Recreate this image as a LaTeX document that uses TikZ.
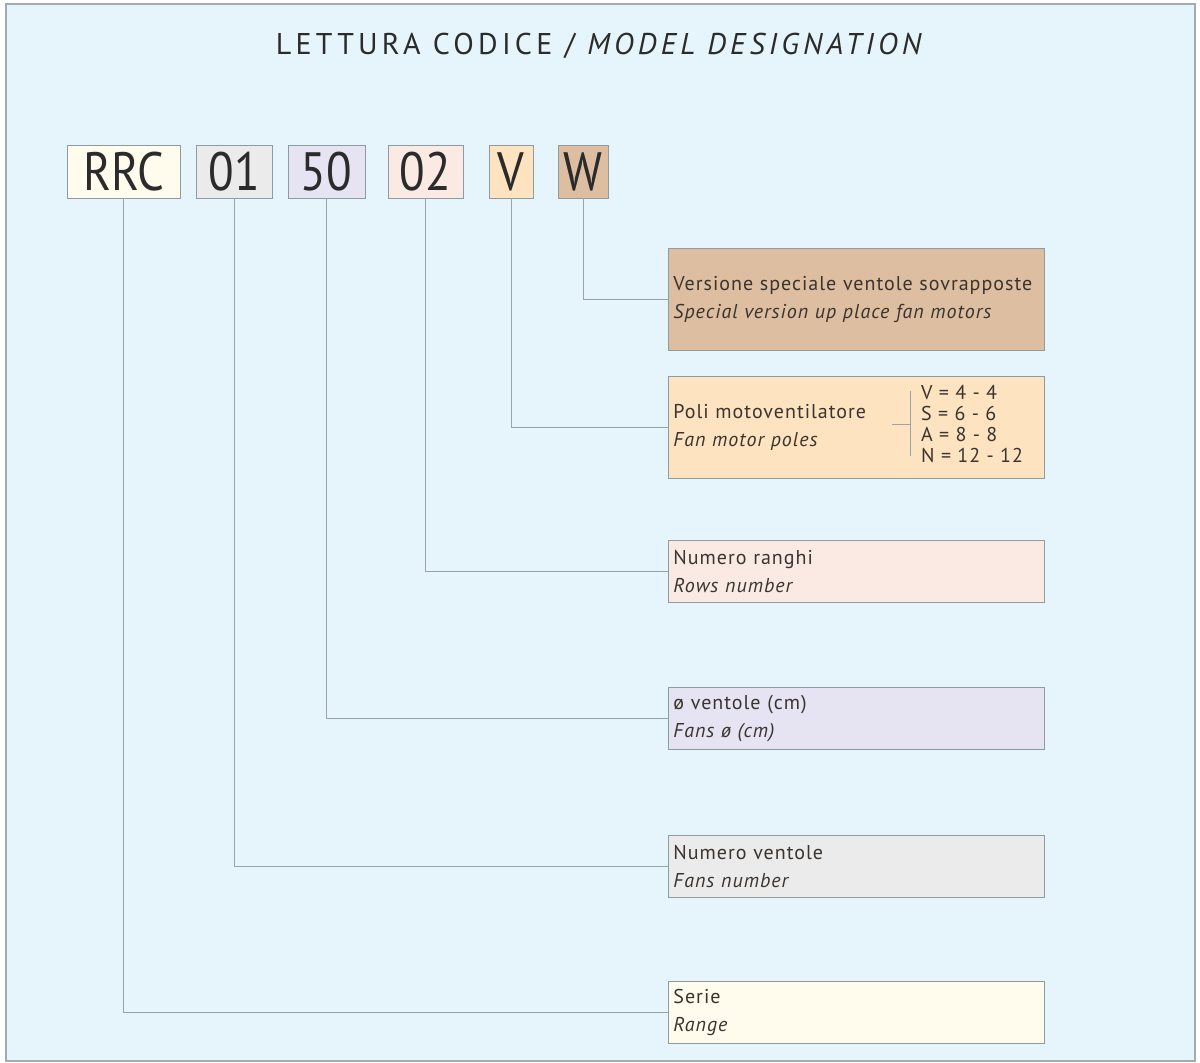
\documentclass[tikz,border=0pt]{standalone}
\usepackage{graphicx}
\usepackage{fontspec}
\setmainfont{PT Sans}
\newfontfamily\titlefont[LetterSpace=14]{PT Sans}
\newfontfamily\descfont[LetterSpace=5]{PT Sans}
\definecolor{bg}{HTML}{E6F4FB}
\definecolor{frame}{HTML}{A3ABAF}
\definecolor{boxline}{HTML}{8E9CA2}
\definecolor{conn}{HTML}{98A4AA}
\definecolor{txt}{HTML}{2B2B2B}
\definecolor{dtxt}{HTML}{3A3430}
\definecolor{cR}{HTML}{FFFCEE}
\definecolor{cA}{HTML}{EBEBEB}
\definecolor{cB}{HTML}{E6E3F3}
\definecolor{cC}{HTML}{FBEAE4}
\definecolor{cV}{HTML}{FDE3C0}
\definecolor{cW}{HTML}{DDBEA0}
\newcommand{\codetxt}[1]{\scalebox{0.87}[1]{#1}}
\begin{document}
\begin{tikzpicture}[x=1pt,y=-1pt,
  codebox/.style={draw=boxline, line width=0.9pt, inner sep=0pt, minimum height=53pt,
    text=txt, font=\fontsize{54}{54}\selectfont},
  descbox/.style={draw=boxline, line width=0.9pt, anchor=north west, inner xsep=5pt,
    inner ysep=0pt, text width=366pt, align=left, text=dtxt,
    font=\descfont\fontsize{20}{28}\selectfont},
  connector/.style={draw=conn, line width=1pt}]
\useasboundingbox (0,0) rectangle (1200,1063);
\fill[white] (0,0) rectangle (1200,1063);
\draw[frame, fill=bg, line width=1.5pt] (6,4) rectangle (1195,1061);

\node[text=txt, font=\titlefont\fontsize{30}{30}\selectfont] (title) at (601,46)
  {LETTURA CODICE / \textit{MODEL DESIGNATION}};

\node[codebox, fill=cR, minimum width=113pt] (rrc) at (123.5,171.5) {\codetxt{RRC}};
\node[codebox, fill=cA, minimum width=76pt] (c01) at (234,171.5) {\codetxt{01}};
\node[codebox, fill=cB, minimum width=77pt] (c50) at (326.5,171.5) {\codetxt{50}};
\node[codebox, fill=cC, minimum width=75pt] (c02) at (425.5,171.5) {\codetxt{02}};
\node[codebox, fill=cV, minimum width=44pt] (cv) at (511,171.5) {\codetxt{V}};
\node[codebox, fill=cW, minimum width=50pt] (cw) at (583,171.5) {\codetxt{W}};

\node[descbox, fill=cW, minimum height=102pt] (dw) at (668,248)
  {Versione speciale ventole sovrapposte\\\textit{Special version up place fan motors}};
\node[descbox, fill=cV, minimum height=102pt] (dv) at (668,376)
  {Poli motoventilatore\\\textit{Fan motor poles}};
\node[descbox, fill=cC, minimum height=62pt] (d02) at (668,540)
  {Numero ranghi\\\textit{Rows number}};
\node[descbox, fill=cB, minimum height=62pt] (d50) at (668,687)
  {ø ventole (cm)\\\textit{Fans ø (cm)}};
\node[descbox, fill=cA, minimum height=62pt] (d01) at (668,835)
  {Numero ventole\\\textit{Fans number}};
\node[descbox, fill=cR, minimum height=62pt] (drrc) at (668,981)
  {Serie\\\textit{Range}};

% poles list and bracket
\node[anchor=west, inner sep=0pt, align=left, text=dtxt,
  font=\descfont\fontsize{20}{21}\selectfont] (poles) at (921,424)
  {V = 4 - 4\\S = 6 - 6\\A = 8 - 8\\N = 12 - 12};
\coordinate (brtop) at (910,391);
\coordinate (brbot) at (910,456);
\coordinate (brmid) at (910,424);
\coordinate (brleft) at (892,424);
\draw[conn, line width=0.9pt] (brtop) -- (brbot);
\draw[conn, line width=0.9pt] (brleft) -- (brmid);

\draw[connector] (cw.south) |- (dw.west);
\draw[connector] (cv.south) |- (dv.west);
\draw[connector] (c02.south) |- (d02.west);
\draw[connector] (c50.south) |- (d50.west);
\draw[connector] (c01.south) |- (d01.west);
\draw[connector] (rrc.south) |- (drrc.west);
\end{tikzpicture}
\end{document}
